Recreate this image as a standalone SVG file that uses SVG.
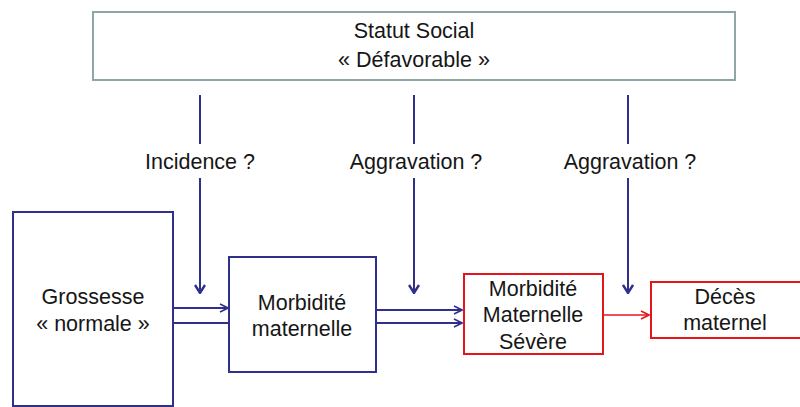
<svg xmlns="http://www.w3.org/2000/svg" width="800" height="407" viewBox="0 0 800 407">
<defs>
<style>
text{font-family:"Liberation Sans",Arial,sans-serif;font-size:21.5px;fill:#161616;text-anchor:middle}
.blue{stroke:#2f2f8c;fill:none}
.red{stroke:#e3161e;fill:none}
</style>
<marker id="ab" viewBox="0 0 10 10" refX="9" refY="5" markerWidth="10" markerHeight="10" markerUnits="userSpaceOnUse" orient="auto"><path d="M1,1 L9,5 L1,9" fill="none" stroke="#2f2f8c" stroke-width="1.6"/></marker>
<marker id="av" viewBox="0 0 12 12" refX="6" refY="11" markerWidth="12" markerHeight="12" markerUnits="userSpaceOnUse" orient="0"><path d="M1,3 L6,11 L11,3" fill="none" stroke="#2f2f8c" stroke-width="2.4"/></marker>
<marker id="ar" viewBox="0 0 10 10" refX="9" refY="5" markerWidth="10" markerHeight="10" markerUnits="userSpaceOnUse" orient="auto"><path d="M1,1 L9,5 L1,9" fill="none" stroke="#e3161e" stroke-width="1.6"/></marker>
</defs>
<rect width="800" height="407" fill="#fff"/>
<g id="statut">
<rect x="93" y="12" width="642" height="68" fill="#fff" stroke="#8ea7a6" stroke-width="2"/>
<text x="414" y="38">Statut Social</text>
<text x="414" y="67">« Défavorable »</text>
</g>
<g id="grossesse">
<rect x="13" y="212" width="160" height="194" fill="#fff" stroke="#2f2f8c" stroke-width="2"/>
<text x="93" y="304">Grossesse</text>
<text x="93" y="331">« normale »</text>
</g>
<g id="morbidite">
<rect x="229" y="257" width="147" height="115" fill="#fff" stroke="#2f2f8c" stroke-width="2"/>
<text x="302" y="310">Morbidité</text>
<text x="302" y="336">maternelle</text>
</g>
<g id="severe">
<rect x="464" y="274" width="139" height="80" fill="#fff" stroke="#e3161e" stroke-width="2"/>
<text x="533" y="296">Morbidité</text>
<text x="533" y="322">Maternelle</text>
<text x="533" y="349">Sévère</text>
</g>
<g id="deces">
<rect x="651" y="282" width="152" height="56" fill="#fff" stroke="#e3161e" stroke-width="2"/>
<text x="725" y="304">Décès</text>
<text x="725" y="330">maternel</text>
</g>
<g id="labels">
<text x="200" y="169">Incidence ?</text>
<text x="416" y="169">Aggravation ?</text>
<text x="630" y="169">Aggravation ?</text>
</g>
<g id="connectors" stroke-width="2">
<line class="blue" x1="200" y1="95" x2="200" y2="144"/>
<line class="blue" x1="200" y1="178" x2="200" y2="293" marker-end="url(#av)"/>
<line class="blue" x1="414" y1="95" x2="414" y2="144"/>
<line class="blue" x1="414" y1="178" x2="414" y2="293" marker-end="url(#av)"/>
<line class="blue" x1="628" y1="95" x2="628" y2="144"/>
<line class="blue" x1="628" y1="178" x2="628" y2="293" marker-end="url(#av)"/>
<line class="blue" x1="173" y1="308" x2="228" y2="308" marker-end="url(#ab)"/>
<line class="blue" x1="173" y1="323" x2="229" y2="323"/>
<line class="blue" x1="376" y1="310" x2="462" y2="310" marker-end="url(#ab)"/>
<line class="blue" x1="376" y1="323" x2="462" y2="323" marker-end="url(#ab)"/>
<line class="red" x1="603" y1="315" x2="649" y2="315" stroke-width="1.6" marker-end="url(#ar)"/>
</g>
</svg>
